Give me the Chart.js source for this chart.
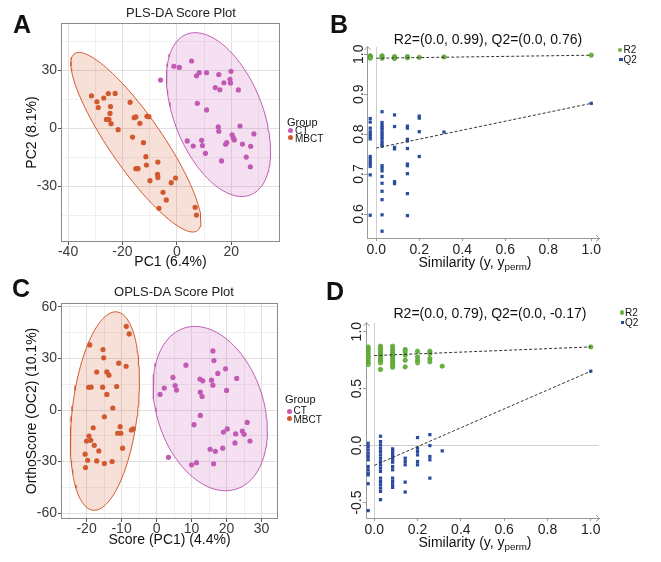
<!DOCTYPE html>
<html>
<head>
<meta charset="utf-8">
<script src="https://cdn.jsdelivr.net/npm/chart.js@4.4.1/dist/chart.umd.min.js"></script>
<style>
  body { margin: 0; width: 661px; height: 562px; position: relative; overflow: hidden; background: #fff;
         font-family: "Liberation Sans", Arial, Helvetica, sans-serif; color: #111; }
  canvas { position: absolute; }
  .c { position: absolute; transform: translate(-50%, -50%); white-space: nowrap; line-height: 1; }
  .l { position: absolute; transform: translateY(-50%); white-space: nowrap; line-height: 1; }
  .dot { position: absolute; border-radius: 50%; }
  .sq { position: absolute; }
  sub { font-size: 70%; vertical-align: -3px; line-height: 0; }
</style>
</head>
<body>
<canvas id="chartA" width="330" height="280" style="left:0;top:0"></canvas>
<canvas id="chartB" width="331" height="280" style="left:330px;top:0"></canvas>
<canvas id="chartC" width="330" height="282" style="left:0;top:280px"></canvas>
<canvas id="chartD" width="331" height="282" style="left:330px;top:280px"></canvas>

<!-- panel letters -->
<div class="c" style="left:22px;top:24px;font-size:25px;font-weight:bold">A</div>
<div class="c" style="left:339px;top:24px;font-size:25px;font-weight:bold">B</div>
<div class="c" style="left:21px;top:288px;font-size:25px;font-weight:bold">C</div>
<div class="c" style="left:335px;top:291px;font-size:25px;font-weight:bold">D</div>

<!-- titles -->
<div class="c" style="left:181px;top:12px;font-size:13px;color:#222">PLS-DA Score Plot</div>
<div class="c" style="left:174px;top:291px;font-size:13px;color:#222">OPLS-DA Score Plot</div>
<div class="c" style="left:488px;top:39px;font-size:14px">R2=(0.0, 0.99), Q2=(0.0, 0.76)</div>
<div class="c" style="left:490px;top:313px;font-size:14px">R2=(0.0, 0.79), Q2=(0.0, -0.17)</div>

<!-- x titles with subscript -->
<div class="c" style="left:475px;top:262px;font-size:14px">Similarity (y, y<sub>perm</sub>)</div>
<div class="c" style="left:475px;top:542px;font-size:14px">Similarity (y, y<sub>perm</sub>)</div>

<!-- group legends -->
<div class="l" style="left:287px;top:122px;font-size:11px">Group</div>
<div class="dot" style="left:288.3px;top:127.6px;width:5px;height:5px;background:#C25AB5"></div>
<div class="l" style="left:295px;top:130.5px;font-size:10px">CT</div>
<div class="dot" style="left:288.3px;top:135.3px;width:5px;height:5px;background:#D2592E"></div>
<div class="l" style="left:295px;top:139px;font-size:10px">MBCT</div>

<div class="l" style="left:285px;top:399px;font-size:11px">Group</div>
<div class="dot" style="left:286.8px;top:408.5px;width:5px;height:5px;background:#C25AB5"></div>
<div class="l" style="left:293.5px;top:411px;font-size:10px">CT</div>
<div class="dot" style="left:286.8px;top:415.8px;width:5px;height:5px;background:#D2592E"></div>
<div class="l" style="left:293.5px;top:419.5px;font-size:10px">MBCT</div>

<!-- permutation legends -->
<div class="dot" style="left:617.8px;top:47.8px;width:4.5px;height:4.5px;background:#6BB43E"></div>
<div class="l" style="left:623.5px;top:50px;font-size:10px">R2</div>
<div class="sq" style="left:619px;top:57.6px;width:3.5px;height:3.5px;background:#2A4C9C"></div>
<div class="l" style="left:623.5px;top:59.5px;font-size:10px">Q2</div>

<div class="dot" style="left:619.5px;top:310px;width:4.5px;height:4.5px;background:#6BB43E"></div>
<div class="l" style="left:625px;top:312.5px;font-size:10px">R2</div>
<div class="sq" style="left:620.5px;top:320.5px;width:3.5px;height:3.5px;background:#2A4C9C"></div>
<div class="l" style="left:625px;top:322.5px;font-size:10px">Q2</div>

<script>
// ---- A : PLS-DA scores ----
const aCtPc1 = [-6.0, -1.1, 0.9, 5.4, 7.2, 8.2, 10.9, 7.5, 10.9, 15.4, 19.9, 17.3, 19.5, 19.7, 14.1, 15.8, 22.6, 15.2,
                15.4, 23.2, 28.3, 20.3, 20.7, 21.1, 18.3, 17.9, 24.1, 27.1, 3.8, 6.0, 9.1, 9.4, 10.5, 16.4, 25.5, 27.0];
const aCtPc2 = [24.9, 32.0, 31.4, 34.7, 27.1, 28.7, 28.7, 12.9, 9.5, 27.7, 29.4, 23.5, 25.3, 23.4, 21.0, 19.9, 19.8, 0.7,
                -1.5, 1.2, -2.9, -3.3, -4.8, -6.0, -7.4, -8.2, -8.1, -9.3, -6.5, -9.1, -6.2, -8.9, -12.9, -16.8, -14.8, -19.8];
const aMbctPc1 = [-31.4, -29.4, -28.9, -26.9, -25.2, -22.7, -24.4, -24.6, -25.9, -25.0, -24.2, -21.6, -17.2, -15.7, -15.1,
                  -13.6, -11.0, -10.3, -16.3, -12.3, -11.4, -11.2, -15.1, -14.3, -7.0, -7.1, -7.0, -9.9, -2.1, -0.5,
                  -5.1, -3.9, -6.6, 6.7, 7.2];
const aMbctPc2 = [16.8, 13.7, 10.7, 15.6, 17.9, 18.0, 11.2, 7.7, 4.6, 4.6, 2.4, -0.7, 13.4, 5.5, 5.9,
                  2.6, 6.2, 6.0, -4.5, -7.4, -14.6, -18.9, -20.8, -20.8, -17.4, -23.7, -25.4, -27.0, -28.0, -25.6,
                  -33.0, -36.9, -41.2, -40.7, -44.7];
const aXMajor = [-40, -20, 0, 20];
const aXMinor = [-30, -10, 10, 30];
const aYMajor = [-30, 0, 30];
const aYMinor = [-45, -15, 15, 45];

// ---- C : OPLS-DA scores ----
const cCtScore = [16.1, 16.4, 8.4, 4.7, 2.2, 1.0, 5.3, 5.7, 12.4, 13.2, 15.7, 16.1, 17.5, 19.7, 22.9, 20.0, 12.5, 13.0,
                  12.5, 10.7, 25.9, 19.1, 20.2, 22.6, 24.5, 25.0, 22.4, 26.7, 15.3, 16.8, 18.9, 3.4, 10.0, 11.4, 16.3];
const cCtOrtho = [34.4, 28.8, 26.1, 19.0, 12.8, 9.1, 14.3, 11.6, 18.0, 17.0, 17.4, 14.5, 21.3, 24.0, 18.4, 11.4, 10.4, 7.9,
                  -3.1, -8.5, -7.2, -12.8, -11.0, -13.9, -12.2, -14.1, -19.1, -18.0, -22.8, -24.0, -22.2, -27.5, -31.9, -30.6, -31.3];
const cMbctScore = [-8.65, -7.8, -19.1, -15.3, -15.1, -10.8, -8.7, -17.1, -14.2, -13.6, -19.4, -18.7, -15.4, -11.4, -14.2,
                    -12.5, -14.9, -18.1, -10.4, -11.1, -10.2, -7.2, -6.7, -19.3, -20.0, -18.8, -17.8, -16.5, -20.4, -19.7,
                    -17.1, -14.9, -12.7, -9.7, -20.3];
const cMbctOrtho = [48.7, 44.3, 37.9, 35.2, 30.4, 27.3, 25.5, 22.1, 22.2, 20.3, 13.2, 13.3, 13.3, 13.7, 9.1,
                    1.2, -3.9, -10.3, -9.7, -13.5, -13.5, -11.6, -11.0, -15.1, -18.0, -17.6, -20.5, -23.8, -25.7, -29.2,
                    -29.6, -31.1, -30.0, -22.2, -33.5];
const cXMajor = [-20, -10, 0, 10, 20, 30];
const cXMinor = [-25, -15, -5, 5, 15, 25];
const cYMajor = [-60, -30, 0, 30, 60];
const cYMinor = [-45, -15, 15, 45];

// ---- B : PLS-DA permutation test ----
const bSim = [-0.028, 0.027, 0.085, 0.145, 0.2, 0.315];
const bR2 = [[0.996, 0.994, 0.992, 0.990], [0.996, 0.993, 0.990], [0.994, 0.991, 0.989], [0.994, 0.991], [0.992], [0.993]];
const bQ2 = [
  [0.839, 0.830, 0.815, 0.806, 0.800, 0.794, 0.788, 0.744, 0.738, 0.731, 0.726, 0.719, 0.698, 0.597],
  [0.856, 0.829, 0.822, 0.817, 0.812, 0.805, 0.800, 0.794, 0.789, 0.781, 0.775, 0.770, 0.721, 0.715, 0.708, 0.694,
   0.677, 0.657, 0.636, 0.598, 0.557],
  [0.848, 0.819, 0.767, 0.763, 0.681, 0.676],
  [0.820, 0.815, 0.787, 0.783, 0.764, 0.725, 0.721, 0.701, 0.651, 0.596],
  [0.845, 0.840, 0.806, 0.744],
  [0.805]
];
const bFitSim = [0, 1];
const bR2Fit = [0.990, 0.9975];
const bQ2Fit = [0.765, 0.877];
const bXTicks = [0, 0.2, 0.4, 0.6, 0.8, 1.0];
const bYTicks = [0.6, 0.7, 0.8, 0.9, 1.0];

// ---- D : OPLS-DA permutation test ----
const dSim = [-0.028, 0.029, 0.085, 0.143, 0.2, 0.257, 0.314];
const dR2 = [
  [0.866, 0.845, 0.828, 0.808, 0.787, 0.770, 0.749, 0.729, 0.711],
  [0.872, 0.851, 0.831, 0.813, 0.796, 0.778, 0.761, 0.743, 0.726, 0.668],
  [0.872, 0.843, 0.822, 0.802, 0.784, 0.764, 0.743, 0.726, 0.706, 0.688],
  [0.843, 0.822, 0.793, 0.749, 0.691],
  [0.828, 0.778, 0.749, 0.726],
  [0.828, 0.808, 0.764, 0.735],
  [0.697]
];
const dQ2 = [
  [0.020, -0.009, -0.038, -0.067, -0.096, -0.125, -0.184, -0.213, -0.242, -0.257, -0.335, -0.571],
  [0.082, 0.035, 0.006, -0.023, -0.052, -0.082, -0.111, -0.140, -0.169, -0.198, -0.227, -0.286, -0.315, -0.344,
   -0.373, -0.402, -0.475],
  [-0.029, -0.052, -0.073, -0.096, -0.120, -0.146, -0.184, -0.213, -0.286, -0.315, -0.344, -0.367],
  [-0.111, -0.140, -0.169, -0.321, -0.408],
  [0.070, -0.023, -0.052, -0.082, -0.140, -0.169],
  [0.096, 0.0, -0.096, -0.125, -0.286],
  [-0.047]
];
const dFitSim = [0, 1];
const dR2Fit = [0.79, 0.866];
const dQ2Fit = [-0.175, 0.653];
const dXTicks = [0, 0.2, 0.4, 0.6, 0.8, 1.0];
const dYTicks = [-0.5, 0, 0.5, 1.0];

// colours
const CT_COL = '#C25AB5', MB_COL = '#D2592E';
const CT_FILL = 'rgba(200, 90, 180, 0.19)', MB_FILL = 'rgba(208, 90, 46, 0.19)';
const R2_COL = '#6BB43E', Q2_COL = '#2A4C9C';

const FONT = '"Liberation Sans", Arial, Helvetica, sans-serif';
Chart.defaults.font.family = FONT;
Chart.defaults.animation = false;
Chart.defaults.events = [];

function pts(xs, ys) {
  return xs.map((x, i) => ({x: x, y: ys[i]}));
}

function colPts(sims, cols) {
  const out = [];
  cols.forEach((c, i) => c.forEach(v => out.push({x: sims[i], y: v})));
  return out;
}

// 95% ellipse like ggplot stat_ellipse (type "t", cov.trob)
function tEllipse(xs, ys, level, segs) {
  const n = xs.length, p = 2, nu = 5;
  let w = xs.map(() => 1);
  let mx = xs.reduce((a, b) => a + b, 0) / n;
  let my = ys.reduce((a, b) => a + b, 0) / n;
  let dx, dy;
  for (let it = 0; it < 100; it++) {
    dx = xs.map(v => v - mx);
    dy = ys.map(v => v - my);
    const sw = w.reduce((a, b) => a + b, 0);
    let sxx = 0, sxy = 0, syy = 0;
    for (let i = 0; i < n; i++) {
      sxx += w[i] * dx[i] * dx[i] / sw;
      sxy += w[i] * dx[i] * dy[i] / sw;
      syy += w[i] * dy[i] * dy[i] / sw;
    }
    const det = sxx * syy - sxy * sxy;
    const w0 = w;
    w = dx.map((d, i) => (nu + p) / (nu + (syy * d * d - 2 * sxy * d * dy[i] + sxx * dy[i] * dy[i]) / det));
    const sw2 = w.reduce((a, b) => a + b, 0);
    mx = xs.reduce((a, v, i) => a + w[i] * v, 0) / sw2;
    my = ys.reduce((a, v, i) => a + w[i] * v, 0) / sw2;
    if (w.every((v, i) => Math.abs(v - w0[i]) < 1e-5)) break;
  }
  let cxx = 0, cxy = 0, cyy = 0;
  for (let i = 0; i < n; i++) {
    cxx += w[i] * dx[i] * dx[i] / n;
    cxy += w[i] * dx[i] * dy[i] / n;
    cyy += w[i] * dy[i] * dy[i] / n;
  }
  const a = Math.sqrt(cxx), b = cxy / a, c = Math.sqrt(cyy - b * b);
  const d = n - 1;
  const f = d / 2 * (Math.pow(1 - level, -2 / d) - 1);
  const r = Math.sqrt(2 * f);
  const out = [];
  for (let k = 0; k <= segs; k++) {
    const t = 2 * Math.PI * k / segs;
    out.push({x: mx + r * a * Math.cos(t), y: my + r * (b * Math.cos(t) + c * Math.sin(t))});
  }
  return out;
}

// panel box for the score plots
const boxPlugin = {
  id: 'box',
  afterDatasetsDraw(chart) {
    const a = chart.chartArea, ctx = chart.ctx;
    ctx.save();
    ctx.strokeStyle = '#8a8a8a';
    ctx.lineWidth = 1;
    ctx.strokeRect(Math.round(a.left) + 0.5, Math.round(a.top) + 0.5, Math.round(a.width) - 1, Math.round(a.height) - 1);
    ctx.restore();
  }
};

// little arrow heads at the end of the axes for the permutation plots
const arrowPlugin = {
  id: 'arrows',
  afterDraw(chart) {
    const a = chart.chartArea, ctx = chart.ctx;
    ctx.save();
    ctx.strokeStyle = '#999';
    ctx.lineWidth = 1;
    ctx.beginPath();
    ctx.moveTo(a.left - 2.5, a.top + 3);
    ctx.lineTo(a.left + 0.5, a.top - 0.5);
    ctx.lineTo(a.left + 3.5, a.top + 3);
    ctx.moveTo(a.right - 3, a.bottom - 3);
    ctx.lineTo(a.right + 0.5, a.bottom + 0.5);
    ctx.lineTo(a.right - 3, a.bottom + 3.5);
    ctx.stroke();
    ctx.restore();
  }
};

function scoreChart(id, s) {
  const xTicks = s.xMajor.concat(s.xMinor).sort((p, q) => p - q);
  const yTicks = s.yMajor.concat(s.yMinor).sort((p, q) => p - q);
  const gridX = {
    color: c => s.xMajor.includes(c.tick.value) ? '#e0e0e0' : '#efefef',
    tickColor: c => s.xMajor.includes(c.tick.value) ? '#555' : 'rgba(0,0,0,0)',
    tickLength: 3
  };
  const gridY = {
    color: c => s.yMajor.includes(c.tick.value) ? '#e0e0e0' : '#efefef',
    tickColor: c => s.yMajor.includes(c.tick.value) ? '#555' : 'rgba(0,0,0,0)',
    tickLength: 3
  };
  return new Chart(document.getElementById(id), {
    type: 'scatter',
    data: {
      datasets: [
        {data: tEllipse(s.ctX, s.ctY, 0.95, 120), showLine: true, pointRadius: 0, borderColor: CT_COL,
         borderWidth: 1, backgroundColor: CT_FILL, fill: 'shape', order: 2},
        {data: tEllipse(s.mbX, s.mbY, 0.95, 120), showLine: true, pointRadius: 0, borderColor: MB_COL,
         borderWidth: 1, backgroundColor: MB_FILL, fill: 'shape', order: 2},
        {data: pts(s.ctX, s.ctY), pointRadius: 2.6, pointBorderWidth: 0, backgroundColor: CT_COL, order: 1},
        {data: pts(s.mbX, s.mbY), pointRadius: 2.6, pointBorderWidth: 0, backgroundColor: MB_COL, order: 1}
      ]
    },
    options: {
      responsive: false,
      layout: {padding: s.pad},
      plugins: {legend: {display: false}, tooltip: {enabled: false}},
      scales: {
        x: {
          type: 'linear', min: s.xMin, max: s.xMax,
          afterBuildTicks: sc => { sc.ticks = xTicks.map(v => ({value: v})); },
          afterFit: sc => { sc.height = s.xH; },
          grid: gridX,
          border: {display: false},
          ticks: {callback: v => s.xMajor.includes(v) ? String(v) : '', autoSkip: false, maxRotation: 0,
                  padding: 0, color: '#3a3a3a', font: {size: 14, lineHeight: 1}},
          title: {display: true, text: s.xTitle, color: '#111', font: {size: 14}, padding: {top: 0, bottom: s.xTitlePad}}
        },
        y: {
          type: 'linear', min: s.yMin, max: s.yMax,
          afterBuildTicks: sc => { sc.ticks = yTicks.map(v => ({value: v})); },
          afterFit: sc => { sc.width = s.yW; },
          grid: gridY,
          border: {display: false},
          ticks: {callback: v => s.yMajor.includes(v) ? String(v) : '', autoSkip: false,
                  padding: 1, color: '#3a3a3a', font: {size: 14}},
          title: {display: true, text: s.yTitle, color: '#111', font: {size: 14}, padding: {top: s.yTitlePad, bottom: 0}}
        }
      }
    },
    plugins: [boxPlugin]
  });
}

function permChart(id, s) {
  return new Chart(document.getElementById(id), {
    type: 'scatter',
    data: {
      datasets: [
        {data: pts(s.fitSim, s.r2Fit), showLine: true, pointRadius: 0, borderColor: '#333', borderWidth: 1,
         borderDash: [3, 2], order: 0},
        {data: pts(s.fitSim, s.q2Fit), showLine: true, pointRadius: 0, borderColor: '#333', borderWidth: 1,
         borderDash: [3, 2], order: 0},
        {data: colPts(s.sim, s.r2).concat([{x: 1, y: s.r2Fit[1]}]), pointRadius: 2.2, pointBorderWidth: 0.6,
         pointBorderColor: '#4f9a2c', backgroundColor: R2_COL, order: 1},
        {data: colPts(s.sim, s.q2).concat([{x: 1, y: s.q2Fit[1]}]), pointStyle: 'rect', pointRadius: 2.3,
         pointBorderWidth: 0, backgroundColor: Q2_COL, order: 1}
      ]
    },
    options: {
      responsive: false,
      layout: {padding: s.pad},
      plugins: {legend: {display: false}, tooltip: {enabled: false}},
      scales: {
        x: {
          type: 'linear', min: s.xMin, max: s.xMax,
          afterBuildTicks: sc => { sc.ticks = s.xTicks.map(v => ({value: v})); },
          afterFit: sc => { sc.height = s.xH; },
          grid: {color: c => c.tick.value === 0 ? '#cfcfcf' : 'rgba(0,0,0,0)', tickColor: '#999', tickLength: 3},
          border: {display: true, color: '#999'},
          ticks: {callback: v => v.toFixed(1), autoSkip: false, maxRotation: 0, padding: 2,
                  color: '#222', font: {size: 14, lineHeight: 1}}
        },
        y: {
          type: 'linear', min: s.yMin, max: s.yMax,
          afterBuildTicks: sc => { sc.ticks = s.yTicks.map(v => ({value: v})); },
          afterFit: sc => { sc.width = s.yW; },
          grid: {color: c => c.tick.value === 0 ? '#cfcfcf' : 'rgba(0,0,0,0)', tickColor: '#999', tickLength: 3},
          border: {display: true, color: '#999'},
          ticks: {callback: v => v.toFixed(1), autoSkip: false, minRotation: 90, maxRotation: 90,
                  crossAlign: 'center', padding: s.yPad, color: '#222', font: {size: 14}}
        }
      }
    },
    plugins: [arrowPlugin]
  });
}

scoreChart('chartA', {
  ctX: aCtPc1, ctY: aCtPc2, mbX: aMbctPc1, mbY: aMbctPc2,
  xMin: -42.6, xMax: 37.9, yMin: -58.6, yMax: 54.3,
  xMajor: aXMajor, xMinor: aXMinor, yMajor: aYMajor, yMinor: aYMinor,
  pad: {left: 0, right: 50, top: 23, bottom: 0}, xH: 38, yW: 61,
  xTitle: 'PC1 (6.4%)', yTitle: 'PC2 (8.1%)', xTitlePad: 9.5, yTitlePad: 23.5
});

scoreChart('chartC', {
  ctX: cCtScore, ctY: cCtOrtho, mbX: cMbctScore, mbY: cMbctOrtho,
  xMin: -27.3, xMax: 34.7, yMin: -63.4, yMax: 62.3,
  xMajor: cXMajor, xMinor: cXMinor, yMajor: cYMajor, yMinor: cYMinor,
  pad: {left: 0, right: 52, top: 23, bottom: 0}, xH: 43, yW: 61,
  xTitle: 'Score (PC1) (4.4%)', yTitle: 'OrthoScore (OC2) (10.1%)', xTitlePad: 13, yTitlePad: 23.3
});

permChart('chartB', {
  sim: bSim, r2: bR2, q2: bQ2, fitSim: bFitSim, r2Fit: bR2Fit, q2Fit: bQ2Fit,
  xTicks: bXTicks, yTicks: bYTicks,
  xMin: -0.043, xMax: 1.036, yMin: 0.540, yMax: 1.018,
  pad: {left: 0, right: 62, top: 47, bottom: 0}, xH: 42, yW: 37, yPad: -4.4
});

permChart('chartD', {
  sim: dSim, r2: dR2, q2: dQ2, fitSim: dFitSim, r2Fit: dR2Fit, q2Fit: dQ2Fit,
  xTicks: dXTicks, yTicks: dYTicks,
  xMin: -0.038, xMax: 1.038, yMin: -0.636, yMax: 1.076,
  pad: {left: 0, right: 62, top: 43, bottom: 0}, xH: 44, yW: 36, yPad: -6.6
});
</script>
</body>
</html>
